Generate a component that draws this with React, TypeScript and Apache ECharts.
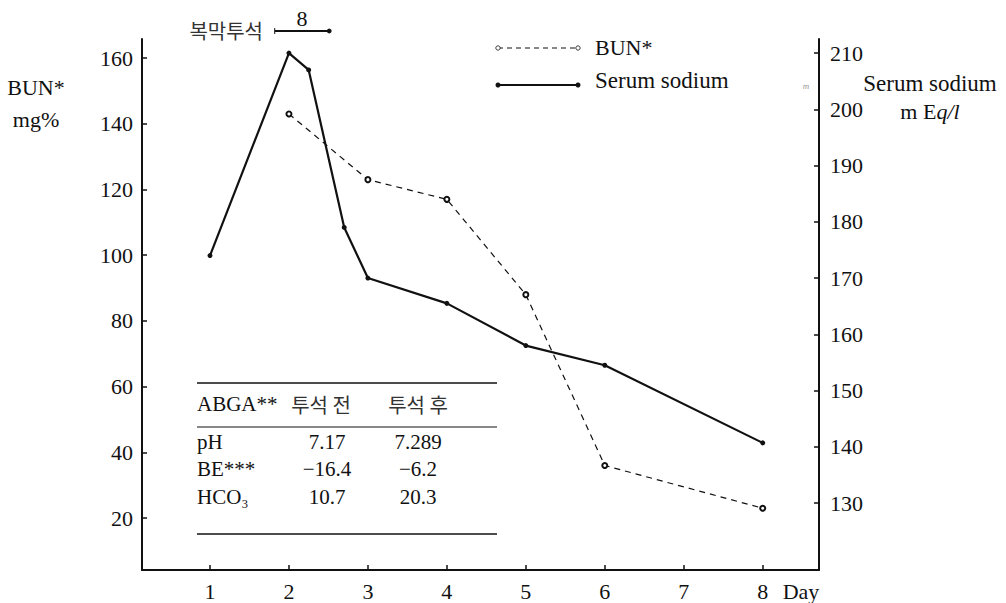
import React, { useEffect, useRef } from "react";
import * as echarts from "echarts";

// ---- data ----
const dayTicks = [1, 2, 3, 4, 5, 6, 7, 8];
const bunTicks = [20, 40, 60, 80, 100, 120, 140, 160];
const sodiumTicks = [130, 140, 150, 160, 170, 180, 190, 200, 210];
const bunDays = [2, 3, 4, 5, 6, 8];
const bunValues = [143, 123, 117, 88, 36, 23];
const sodiumDays = [1, 2, 2.25, 2.7, 3, 4, 5, 6, 8];
const sodiumValues = [174, 210, 207, 179, 170, 165.5, 158, 154.5, 140.7];
const dialysisSpan = [1.82, 2.51];
const dialysisLabel = "8";
const dialysisTitle = "복막투석";
const tableHeader = ["ABGA**", "투석 전", "투석 후"];
const tableRows = [
  ["pH", "7.17", "7.289"],
  ["BE***", "−16.4", "−6.2"],
  ["HCO₃", "10.7", "20.3"],
];

const SERIF = "Liberation Serif, Times New Roman, DejaVu Serif, serif";
const KR = "Noto Sans CJK KR, sans-serif";
const INK = "#111";

export default function App() {
  const ref = useRef<HTMLDivElement>(null);
  useEffect(() => {
    const el = ref.current!;
    const chart = echarts.init(el, null, { renderer: "svg" });
    const axisLabelBase = { color: INK, fontFamily: SERIF, fontSize: 22 };
    const option: any = {
      animation: false,
      grid: { left: 142, right: 187, top: 39, bottom: 33, containLabel: false },
      xAxis: {
        type: "value",
        min: 0.139,
        max: 8.713,
        axisLine: { show: true, onZero: false, lineStyle: { color: INK, width: 2 } },
        axisTick: { show: true, inside: true, length: 5, customValues: dayTicks, lineStyle: { color: INK, width: 1.5 } },
        axisLabel: { ...axisLabelBase, customValues: dayTicks, margin: 10 },
        splitLine: { show: false },
      },
      yAxis: [
        {
          type: "value",
          position: "left",
          min: 4.2,
          max: 165.8,
          axisLine: { show: true, onZero: false, lineStyle: { color: INK, width: 2 } },
          axisTick: { show: true, inside: true, length: 5, customValues: bunTicks, lineStyle: { color: INK, width: 1.5 } },
          axisLabel: { ...axisLabelBase, customValues: bunTicks, margin: 9 },
          splitLine: { show: false },
        },
        {
          type: "value",
          position: "right",
          min: 118.1,
          max: 212.5,
          axisLine: { show: true, onZero: false, lineStyle: { color: INK, width: 2 } },
          axisTick: { show: true, inside: true, length: 5, customValues: sodiumTicks, lineStyle: { color: INK, width: 1.5 } },
          axisLabel: { ...axisLabelBase, customValues: sodiumTicks, margin: 11 },
          splitLine: { show: false },
        },
      ],
      series: [
        {
          type: "line",
          name: "BUN*",
          yAxisIndex: 0,
          data: bunDays.map((d, i) => [d, bunValues[i]]),
          symbol: "emptyCircle",
          symbolSize: 5,
          lineStyle: { color: INK, width: 1.2, type: [6, 5] },
          itemStyle: { color: INK, borderColor: INK, borderWidth: 1 },
          z: 3,
        },
        {
          type: "line",
          name: "Serum sodium",
          yAxisIndex: 1,
          data: sodiumDays.map((d, i) => [d, sodiumValues[i]]),
          symbol: "circle",
          symbolSize: 5,
          lineStyle: { color: INK, width: 2.2 },
          itemStyle: { color: INK },
          z: 2,
        },
      ],
    };
    chart.setOption(option);

    const xa = chart.convertToPixel({ xAxisIndex: 0 }, dialysisSpan[0]) as number;
    const xb = chart.convertToPixel({ xAxisIndex: 0 }, dialysisSpan[1]) as number;
    const x8 = chart.convertToPixel({ xAxisIndex: 0 }, dayTicks[dayTicks.length - 1]) as number;

    const txt = (text: string, x: number, y: number, size = 22, align = "left", extra: any = {}) => ({
      type: "text",
      x,
      y,
      style: { text, fill: INK, fontFamily: SERIF, fontSize: size, align, verticalAlign: "middle", ...extra },
    });

    const tableLeft = 197;
    const tableRight = 497;
    const col2 = 327;
    const col3 = 418;
    const rowY = [442, 469, 497];

    const graphic: any[] = [
      // left axis title
      txt("BUN*", 36, 87, 22, "center"),
      txt("mg%", 36, 119, 22, "center"),
      // right axis title
      txt("Serum sodium", 930, 83, 23, "center"),
      {
        type: "text",
        x: 930,
        y: 111,
        style: {
          text: "{n|m E}{i|q/l}",
          align: "center",
          verticalAlign: "middle",
          rich: {
            n: { fontFamily: SERIF, fontSize: 22, fill: INK },
            i: { fontFamily: SERIF, fontSize: 22, fill: INK, fontStyle: "italic" },
          },
        },
      },
      txt("m", 806, 86, 9, "center", { fill: "#999", fontStyle: "italic" }),
      // legend
      { type: "line", shape: { x1: 498, y1: 48, x2: 578, y2: 48 }, style: { stroke: INK, lineWidth: 1, lineDash: [5, 4] } },
      { type: "circle", shape: { cx: 498, cy: 48, r: 2.2 }, style: { fill: "#fff", stroke: INK, lineWidth: 0.8 } },
      { type: "circle", shape: { cx: 578, cy: 48, r: 2.2 }, style: { fill: "#fff", stroke: INK, lineWidth: 0.8 } },
      txt("BUN*", 595, 47, 22),
      { type: "line", shape: { x1: 498, y1: 85, x2: 578, y2: 85 }, style: { stroke: INK, lineWidth: 2 } },
      { type: "circle", shape: { cx: 498, cy: 85, r: 2.5 }, style: { fill: INK } },
      { type: "circle", shape: { cx: 578, cy: 85, r: 2.5 }, style: { fill: INK } },
      txt("Serum sodium", 595, 80, 23),
      // dialysis period marker
      txt(dialysisTitle, 263, 30, 20, "right", { fontFamily: KR, fill: "#333" }),
      { type: "line", shape: { x1: xa, y1: 31, x2: xb, y2: 31 }, style: { stroke: INK, lineWidth: 1.8 } },
      { type: "line", shape: { x1: xa, y1: 28, x2: xa, y2: 34 }, style: { stroke: INK, lineWidth: 1 } },
      { type: "circle", shape: { cx: xb, cy: 31, r: 2.4 }, style: { fill: INK } },
      txt(dialysisLabel, (xa + xb) / 2, 18, 22, "center"),
      // "Day" after the last tick label
      txt("Day", x8 + 20, 591, 22),
      // table
      { type: "line", shape: { x1: tableLeft, y1: 383, x2: tableRight, y2: 383 }, style: { stroke: INK, lineWidth: 1.5 } },
      { type: "line", shape: { x1: tableLeft, y1: 427, x2: tableRight, y2: 427 }, style: { stroke: INK, lineWidth: 1.2 } },
      { type: "line", shape: { x1: tableLeft, y1: 534, x2: tableRight, y2: 534 }, style: { stroke: INK, lineWidth: 1.5 } },
      txt(tableHeader[0], tableLeft, 404, 21),
      txt(tableHeader[1], col2 - 6, 404, 20, "center", { fontFamily: KR, fill: "#333" }),
      txt(tableHeader[2], col3, 404, 20, "center", { fontFamily: KR, fill: "#333" }),
    ];
    tableRows.forEach((row, i) => {
      graphic.push(txt(row[0], tableLeft, rowY[i], 21));
      graphic.push(txt(row[1], col2, rowY[i], 21, "center"));
      graphic.push(txt(row[2], col3, rowY[i], 21, "center"));
    });
    chart.setOption({ graphic });

    return () => chart.dispose();
  }, []);
  return (
    <div
      ref={ref}
      style={{ position: "absolute", left: 0, top: 0, width: 1006, height: 603, background: "#fff" }}
    />
  );
}
